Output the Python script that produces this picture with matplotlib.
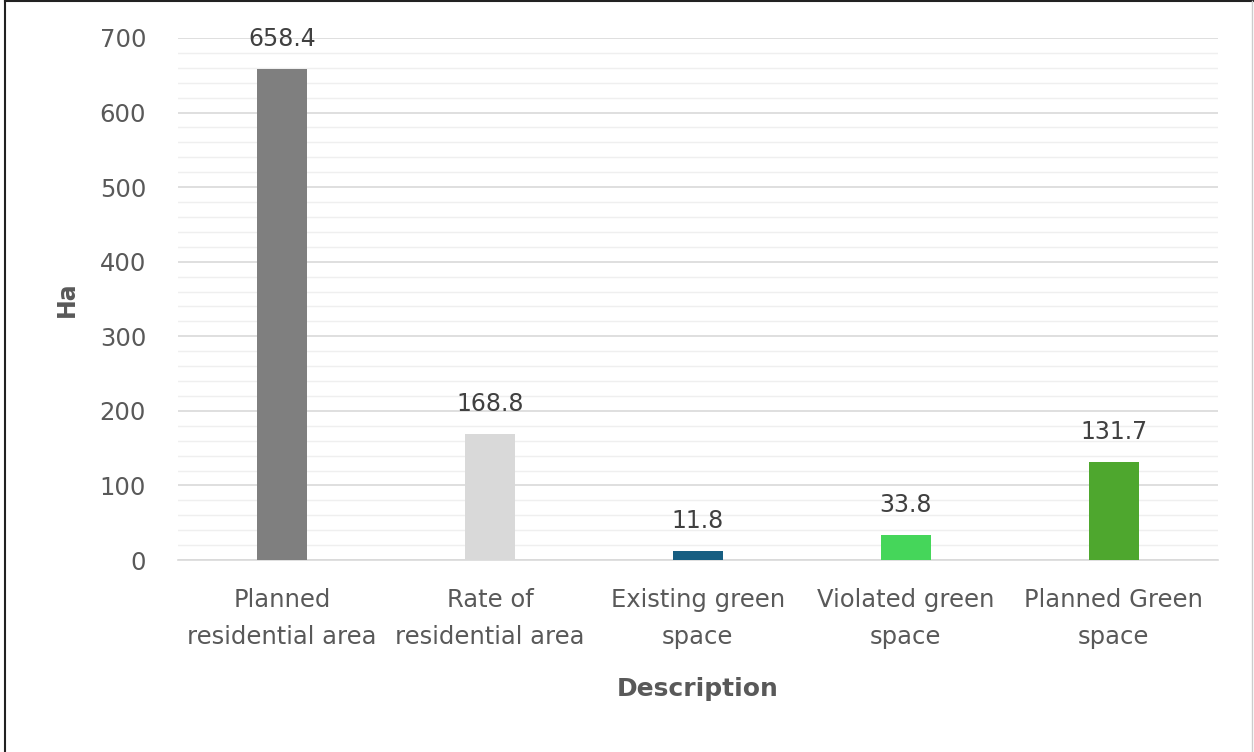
import matplotlib
matplotlib.use("Agg")
import matplotlib.pyplot as plt
from matplotlib.ticker import MultipleLocator
from matplotlib.lines import Line2D

categories = ["Planned\nresidential area", "Rate of\nresidential area",
              "Existing green\nspace", "Violated green\nspace", "Planned Green\nspace"]
values = [658.4, 168.8, 11.8, 33.8, 131.7]
colors = ["#7f7f7f", "#d9d9d9", "#175e82", "#45d65a", "#4ea72e"]

plt.rcParams['font.family'] = ['DejaVu Sans']

fig = plt.figure(figsize=(12.54, 7.52), dpi=100)
ax = fig.add_axes([0.142, 0.2553, 0.829, 0.6942])

x = list(range(len(categories)))
bars = ax.bar(x, values, width=0.24, color=colors, zorder=3)
for xi, v in zip(x, values):
    ax.annotate(f"{v:.1f}", (xi, v), xytext=(0, 13), textcoords="offset points",
                ha="center", va="bottom", fontsize=17, color="#404040")

ax.set_xlim(-0.5, len(categories) - 0.5)
ax.set_ylim(0, 700)
ax.yaxis.set_major_locator(MultipleLocator(100))
ax.yaxis.set_minor_locator(MultipleLocator(20))
ax.grid(which="major", axis="y", color="#d9d9d9", linewidth=1.2, zorder=0)
ax.grid(which="minor", axis="y", color="#efefef", linewidth=1.0, zorder=0)
ax.set_axisbelow(True)
for s in ["top", "right", "left"]:
    ax.spines[s].set_visible(False)
ax.spines["bottom"].set_color("#d9d9d9")
ax.spines["bottom"].set_linewidth(1.2)

ax.set_xticks(x)
ax.set_xticklabels(categories, fontsize=17.5, color="#595959", linespacing=1.72)
ax.tick_params(axis="x", length=0, pad=20)
ax.tick_params(axis="y", which="both", length=0, pad=23, labelsize=17.5, labelcolor="#595959")

ax.set_xlabel("Description", fontsize=18, fontweight="bold", color="#595959", labelpad=20)
ax.set_ylabel("Ha", fontsize=17, fontweight="bold", color="#595959", labelpad=15)

# outer frame (top, left, right)
fig.add_artist(Line2D([0.004, 0.004], [0, 0.999], transform=fig.transFigure, color="#222222", lw=1.5))
fig.add_artist(Line2D([0.004, 0.999], [0.999, 0.999], transform=fig.transFigure, color="#222222", lw=1.5))
fig.add_artist(Line2D([0.9985, 0.9985], [0, 0.999], transform=fig.transFigure, color="#cccccc", lw=1))

fig.savefig("out.png", dpi=100)
